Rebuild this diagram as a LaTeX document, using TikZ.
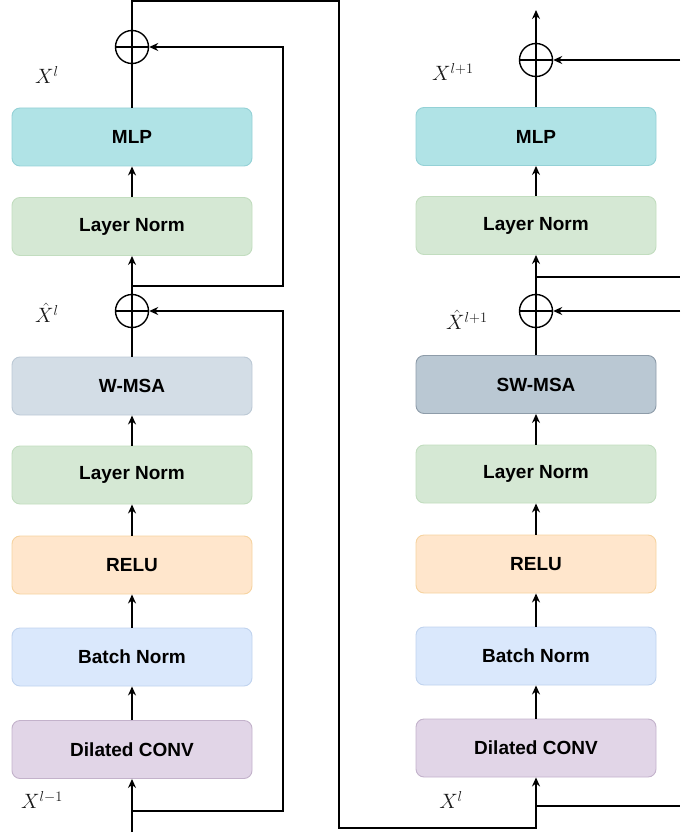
\documentclass[tikz,border=0pt]{standalone}
\usepackage{fontspec}
\setmainfont{Liberation Sans}
\usepackage{tikz}
\usetikzlibrary{arrows.meta, calc, positioning}
\definecolor{mlpfill}{HTML}{B0E3E6}\definecolor{mlpdraw}{HTML}{94D1D6}
\definecolor{lnfill}{HTML}{D5E8D4}\definecolor{lndraw}{HTML}{C2DDBF}
\definecolor{wfill}{HTML}{D3DDE6}\definecolor{wdraw}{HTML}{BCC9D5}
\definecolor{swfill}{HTML}{BAC8D3}\definecolor{swdraw}{HTML}{8E9CA9}
\definecolor{relufill}{HTML}{FFE6CC}\definecolor{reludraw}{HTML}{F6D3A0}
\definecolor{bnfill}{HTML}{DAE8FC}\definecolor{bndraw}{HTML}{C0D3EE}
\definecolor{convfill}{HTML}{E1D5E7}\definecolor{convdraw}{HTML}{C3B2CB}
\tikzset{
  blk/.style  ={draw, rounded corners=8pt, minimum width=240pt, minimum height=58pt, inner sep=0pt, line width=0.9pt, font=\fontsize{19}{22}\selectfont\bfseries},
  mlp/.style  ={blk, fill=mlpfill, draw=mlpdraw},
  lnorm/.style={blk, fill=lnfill, draw=lndraw},
  wmsa/.style ={blk, fill=wfill, draw=wdraw},
  swmsa/.style={blk, fill=swfill, draw=swdraw},
  relu/.style ={blk, fill=relufill, draw=reludraw},
  bnorm/.style={blk, fill=bnfill, draw=bndraw},
  conv/.style ={blk, fill=convfill, draw=convdraw},
  sum/.style  ={draw, circle, minimum size=33pt, inner sep=0pt, line width=1.4pt,
                path picture={\draw[line width=1.4pt] (path picture bounding box.north) -- (path picture bounding box.south)
                  (path picture bounding box.west) -- (path picture bounding box.east);}},
  flow/.style ={-{Stealth[length=9pt, width=8pt]}, line width=1.5pt},
  wire/.style ={line width=1.5pt},
  var/.style  ={font=\fontsize{22}{26}\selectfont, text=black!90},
}

\begin{document}
\begin{tikzpicture}[x=1pt, y=-1pt]
  \useasboundingbox (0,0) rectangle (680,837);
  % left block
  \node[conv] (lconv) at (132,749.5) {Dilated CONV};
  \node[bnorm](lbn) at (132,657) {Batch Norm};
  \node[relu] (lrelu) at (132,565) {RELU};
  \node[lnorm](lln1) at (132,475) {Layer Norm};
  \node[wmsa] (lwmsa) at (132,386) {W-MSA};
  \node[sum]  (lsum1) at (132,311) {};
  \node[lnorm](lln2) at (132,226.5) {Layer Norm};
  \node[mlp]  (lmlp) at (132,137) {MLP};
  \node[sum]  (lsum2) at (132,47) {};
  \node[var] at (47,75) {$X^l$};
  \node[var] at (47,313) {$\hat{X}^l$};
  \node[var] at (42,800) {$X^{l-1}$};

  \coordinate (lin) at (132,832); \coordinate (lb1) at (132,811); \coordinate (lb2) at (132,286);
  \draw[flow](lin)--(lconv.south); \draw[flow](lconv)--(lbn); \draw[flow](lbn)--(lrelu);
  \draw[flow](lrelu)--(lln1); \draw[flow](lln1)--(lwmsa); \draw[wire](lwmsa)--(lsum1);
  \draw[flow](lsum1)--(lln2); \draw[flow](lln2)--(lmlp); \draw[wire](lmlp)--(lsum2);
  \draw[flow](lb1)--++(151,0)|-(lsum1.east);
  \draw[flow](lb2)--++(151,0)|-(lsum2.east);

  % right block
  \node[conv] (rconv) at (536,748) {Dilated CONV};
  \node[bnorm](rbn) at (536,656) {Batch Norm};
  \node[relu] (rrelu) at (536,564) {RELU};
  \node[lnorm](rln1) at (536,474) {Layer Norm};
  \node[swmsa](rsw) at (536,384.5) {SW-MSA};
  \node[sum]  (rsum1) at (536,311) {};
  \node[lnorm](rln2) at (536,225.5) {Layer Norm};
  \node[mlp]  (rmlp) at (536,136.5) {MLP};
  \node[sum]  (rsum2) at (536,60) {};
  \node[var] at (453,72) {$X^{l+1}$};
  \node[var] at (467,320) {$\hat{X}^{l+1}$};
  \node[var] at (451,800) {$X^l$};

  \coordinate (rout) at (536,10); \coordinate (rb1) at (536,806); \coordinate (rb2) at (536,277);
  \coordinate (re1) at (680,806); \coordinate (re2) at (680,277);
  \coordinate (rr1) at (680,311); \coordinate (rr2) at (680,60);
  \draw[flow](rconv)--(rbn); \draw[flow](rbn)--(rrelu); \draw[flow](rrelu)--(rln1);
  \draw[flow](rln1)--(rsw); \draw[wire](rsw)--(rsum1); \draw[flow](rsum1)--(rln2);
  \draw[flow](rln2)--(rmlp); \draw[wire](rmlp)--(rsum2); \draw[flow](rsum2)--(rout);
  \draw[wire](rb1)--(re1); \draw[wire](rb2)--(re2);
  \draw[flow](rr1)--(rsum1.east); \draw[flow](rr2)--(rsum2.east);

  % output of left block feeds right block
  \draw[flow](lsum2.north)--(132,0.8)--(339,0.8)--(339,828)--(536,828)--(rconv.south);
\end{tikzpicture}
\end{document}
